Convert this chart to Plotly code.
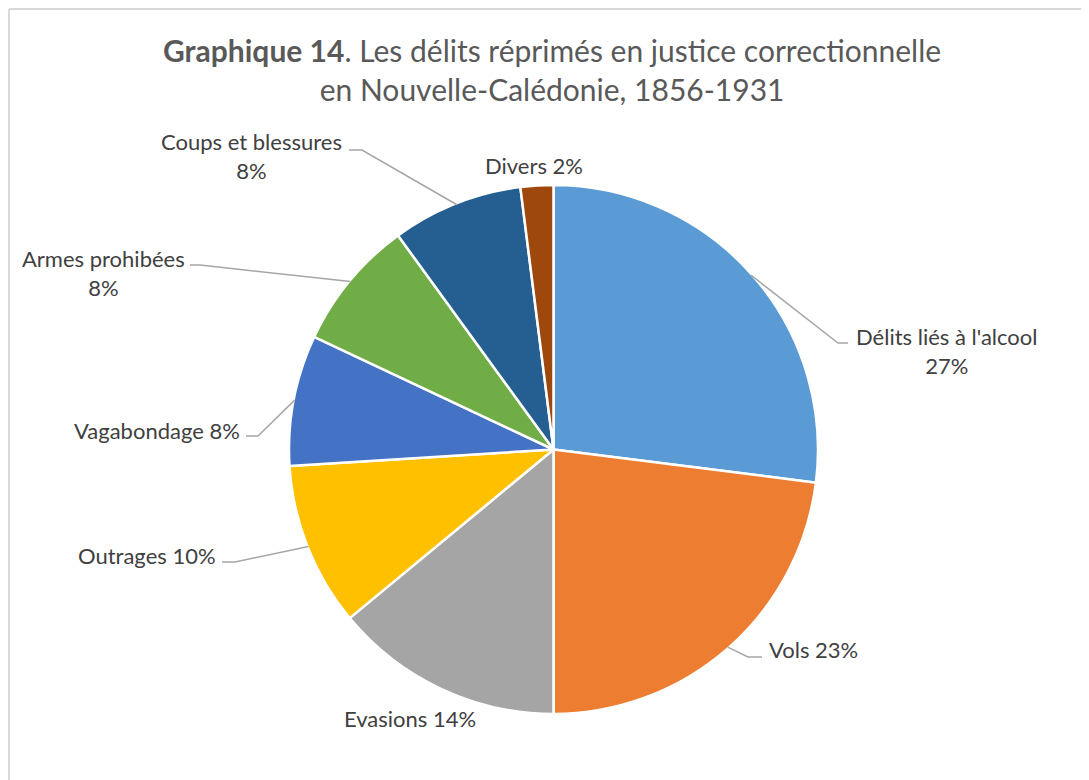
import math
import plotly.graph_objects as go

# ---- data ----
categories = ["Délits liés à l'alcool", "Vols", "Evasions", "Outrages",
              "Vagabondage", "Armes prohibées", "Coups et blessures", "Divers"]
shares = [27, 23, 14, 10, 8, 8, 8, 2]
label_texts = ["Délits liés à l'alcool<br>27%", "Vols 23%", "Evasions 14%", "Outrages 10%",
               "Vagabondage 8%", "Armes prohibées<br>8%", "Coups et blessures<br>8%", "Divers 2%"]

# ---- style ----
colors = ["#5B9BD5", "#ED7D31", "#A5A5A5", "#FFC000",
          "#4472C4", "#70AD47", "#255E91", "#9E480E"]
OFF = 8  # page body margin
W, H = 1089 - OFF, 780 - OFF
CX, CY, R = 553.5, 449.5, 264.5
FONT = "Lato"
# label placement (page pixels): text x, text y, anchor, elbow point, end point
label_pos = [
    (946, 351, "center", (838, 343), (848, 343)),
    (767, 649, "left", (748, 657), (762, 657)),
    (410, 718, "center", None, None),
    (218, 555, "right", (235, 562), (222, 562)),
    (242, 430, "right", (258, 436), (246, 436)),
    (103, 273, "center", (200, 265), (190, 265)),
    (251, 156, "center", (362, 150), (349, 150)),
    (534, 165, "center", None, None),
]

def px(x):
    return (x - OFF) / W

def py(y):
    return 1 - (y - OFF) / H

fig = go.Figure(go.Pie(
    labels=categories, values=shares, sort=False, direction="clockwise",
    rotation=0, marker=dict(colors=colors, line=dict(color="white", width=2.5)),
    textinfo="none", hoverinfo="label+percent", showlegend=False,
    domain=dict(x=[px(CX - R), px(CX + R)], y=[py(CY + R), py(CY - R)]),
))

annotations = []
shapes = []
total = sum(shares)
cum = 0
for i, v in enumerate(shares):
    mid = (cum + v / 2) / total * 2 * math.pi
    cum += v
    ex = CX + (R - 1) * math.sin(mid)
    ey = CY - (R - 1) * math.cos(mid)
    tx, ty, anchor, elbow, end = label_pos[i]
    annotations.append(dict(
        x=px(tx), y=py(ty), xref="paper", yref="paper", text=label_texts[i],
        showarrow=False, xanchor=anchor, yanchor="middle", align="center",
        font=dict(family=FONT, size=22, color="#404040")))
    if elbow is not None:
        path = f"M {px(ex)} {py(ey)} L {px(elbow[0])} {py(elbow[1])} L {px(end[0])} {py(end[1])}"
        shapes.append(dict(type="path", xref="paper", yref="paper", path=path,
                           line=dict(color="#A6A6A6", width=1.5)))

annotations.append(dict(
    x=px(552), y=py(69), xref="paper", yref="paper",
    text="<b>Graphique 14</b>. Les délits réprimés en justice correctionnelle<br>en Nouvelle-Calédonie, 1856-1931",
    showarrow=False, xanchor="center", yanchor="middle", align="center",
    font=dict(family=FONT, size=30, color="#595959")))

# outer frame lines (top and left)
shapes.append(dict(type="line", xref="paper", yref="paper", x0=px(9), y0=py(9), x1=1, y1=py(9),
                   line=dict(color="#D9D9D9", width=2)))
shapes.append(dict(type="line", xref="paper", yref="paper", x0=px(9), y0=py(9), x1=px(9), y1=0,
                   line=dict(color="#D9D9D9", width=2)))

fig.update_layout(width=W, height=H, margin=dict(l=0, r=0, t=0, b=0),
                  paper_bgcolor="white", plot_bgcolor="white",
                  annotations=annotations, shapes=shapes)

fig.write_html("out.html")
